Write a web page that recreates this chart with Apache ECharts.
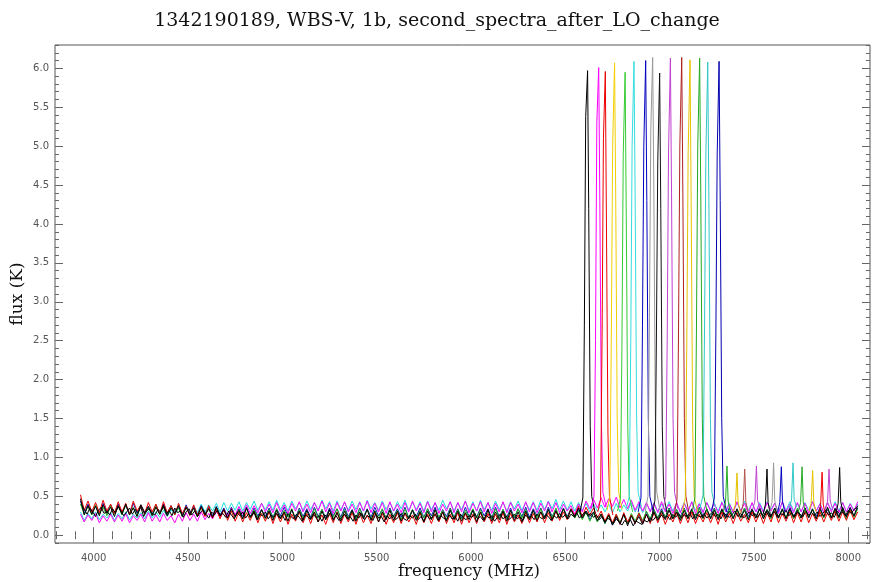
<!DOCTYPE html>
<html>
<head>
<meta charset="utf-8">
<script src="https://cdn.jsdelivr.net/npm/echarts@6/dist/echarts.min.js"></script>
<style>html,body{margin:0;padding:0;background:#fff;}#c{width:874px;height:582px;}</style>
</head>
<body>
<div id="c"></div>
<script>
// ---------- data ----------
const titleText = '1342190189, WBS-V, 1b, second_spectra_after_LO_change';
const xName = 'frequency (MHz)';
const yName = 'flux (K)';
const xRange = [3795, 8115];
const yRange = [-0.1, 6.3];

// baseline spectra sampled on a channel grid (start, step in MHz)
const channelStart = 3930, channelStep = 20;

const blackBase = [
0.47,0.26,0.38,0.27,0.37,0.25,0.39,0.28,0.36,0.24,
0.38,0.27,0.40,0.26,0.35,0.24,0.39,0.28,0.37,0.25,
0.36,0.27,0.39,0.25,0.35,0.28,0.38,0.24,0.36,0.26,
0.35,0.24,0.37,0.26,0.34,0.23,0.36,0.25,0.33,0.22,
0.34,0.24,0.32,0.21,0.35,0.23,0.31,0.20,0.33,0.22,
0.31,0.19,0.32,0.21,0.30,0.18,0.33,0.20,0.31,0.19,
0.32,0.21,0.30,0.17,0.31,0.20,0.33,0.19,0.29,0.18,
0.31,0.20,0.32,0.18,0.30,0.21,0.33,0.19,0.31,0.17,
0.30,0.20,0.32,0.19,0.31,0.18,0.29,0.21,0.32,0.19,
0.30,0.17,0.31,0.20,0.33,0.19,0.30,0.18,0.32,0.20,
0.31,0.18,0.29,0.20,0.32,0.17,0.30,0.19,0.33,0.18,
0.30,0.20,0.31,0.18,0.32,0.19,0.30,0.17,0.31,0.20,
0.32,0.19,0.30,0.21,0.33,0.20,0.31,0.22,0.34,0.21,
0.33,0.23,0.35,0.22,0.31,0.24,0.30,0.19,0.27,0.16,
0.26,0.13,0.24,0.15,0.27,0.12,0.25,0.16,0.24,0.14,
0.27,0.17,0.30,0.19,0.31,0.20,0.32,0.21,0.30,0.19,
0.32,0.21,0.33,0.20,0.31,0.22,0.34,0.21,0.32,0.20,
0.33,0.22,0.31,0.21,0.34,0.23,0.32,0.20,0.33,0.22,
0.34,0.21,0.32,0.23,0.35,0.22,0.33,0.21,0.34,0.23,
0.32,0.22,0.35,0.23,0.33,0.21,0.34,0.24,0.36,0.22,
0.34,0.23,0.36,0.24,0.35,0.25,0.38];

const redBase = [
0.52,0.32,0.44,0.30,0.42,0.29,0.45,0.31,0.40,0.28,
0.43,0.30,0.41,0.27,0.44,0.31,0.39,0.28,0.42,0.30,
0.40,0.27,0.43,0.29,0.38,0.26,0.41,0.28,0.37,0.25,
0.39,0.26,0.36,0.24,0.38,0.22,0.34,0.21,0.33,0.19,
0.31,0.18,0.30,0.17,0.29,0.19,0.31,0.16,0.28,0.18,
0.30,0.15,0.28,0.17,0.29,0.14,0.27,0.18,0.30,0.16,
0.28,0.15,0.29,0.17,0.26,0.14,0.28,0.16,0.30,0.15,
0.27,0.17,0.29,0.14,0.28,0.16,0.26,0.15,0.29,0.17,
0.28,0.14,0.27,0.16,0.29,0.15,0.28,0.17,0.26,0.14,
0.29,0.16,0.27,0.15,0.28,0.17,0.30,0.15,0.27,0.16,
0.29,0.14,0.28,0.16,0.27,0.15,0.29,0.17,0.28,0.15,
0.27,0.16,0.29,0.14,0.28,0.17,0.26,0.15,0.29,0.16,
0.28,0.17,0.30,0.16,0.29,0.18,0.31,0.19,0.30,0.20,
0.34,0.25,0.37,0.24,0.36,0.26,0.35,0.22,0.31,0.18,
0.28,0.16,0.27,0.14,0.29,0.17,0.26,0.15,0.28,0.16,
0.27,0.15,0.29,0.16,0.28,0.14,0.27,0.17,0.29,0.15,
0.28,0.16,0.30,0.15,0.27,0.17,0.29,0.16,0.28,0.14,
0.30,0.17,0.28,0.15,0.29,0.18,0.27,0.16,0.30,0.17,
0.28,0.15,0.29,0.17,0.31,0.16,0.28,0.18,0.30,0.16,
0.29,0.17,0.31,0.16,0.28,0.18,0.30,0.17,0.29,0.19,
0.31,0.18,0.30,0.19,0.32,0.20,0.30];

const magentaBase = [
0.27,0.17,0.26,0.19,0.28,0.16,0.25,0.18,0.27,0.17,
0.26,0.18,0.28,0.16,0.25,0.19,0.27,0.17,0.29,0.18,
0.26,0.17,0.28,0.19,0.25,0.16,0.27,0.18,0.29,0.19,
0.27,0.18,0.30,0.20,0.28,0.21,0.31,0.23,0.33,0.24,
0.35,0.26,0.37,0.27,0.39,0.28,0.38,0.29,0.41,0.30,
0.40,0.29,0.42,0.30,0.39,0.28,0.41,0.31,0.43,0.30,
0.40,0.29,0.42,0.31,0.44,0.30,0.41,0.28,0.42,0.31,
0.43,0.30,0.40,0.29,0.42,0.31,0.44,0.29,0.41,0.30,
0.42,0.28,0.43,0.31,0.40,0.29,0.42,0.30,0.44,0.31,
0.41,0.29,0.43,0.30,0.42,0.28,0.40,0.31,0.43,0.29,
0.42,0.30,0.44,0.29,0.41,0.31,0.43,0.30,0.42,0.28,
0.41,0.30,0.43,0.29,0.42,0.31,0.40,0.29,0.43,0.30,
0.42,0.29,0.41,0.31,0.43,0.30,0.42,0.29,0.40,0.31,
0.38,0.27,0.40,0.30,0.44,0.34,0.46,0.35,0.48,0.36,
0.47,0.37,0.49,0.35,0.46,0.34,0.45,0.32,0.43,0.31,
0.42,0.30,0.41,0.29,0.43,0.30,0.40,0.28,0.42,0.29,
0.41,0.30,0.43,0.28,0.40,0.29,0.42,0.31,0.41,0.28,
0.42,0.30,0.40,0.29,0.43,0.31,0.41,0.28,0.42,0.30,
0.40,0.29,0.42,0.31,0.41,0.28,0.43,0.30,0.40,0.29,
0.42,0.30,0.41,0.28,0.43,0.31,0.40,0.29,0.42,0.30,
0.41,0.29,0.42,0.30,0.40,0.31,0.43];

const cyanBase = [
0.30,0.19,0.28,0.21,0.30,0.20,0.27,0.22,0.29,0.19,
0.28,0.21,0.30,0.20,0.27,0.22,0.29,0.21,0.31,0.22,
0.30,0.23,0.32,0.24,0.33,0.26,0.35,0.27,0.36,0.28,
0.38,0.29,0.40,0.30,0.39,0.31,0.41,0.30,0.42,0.31,
0.41,0.32,0.43,0.31,0.42,0.33,0.44,0.32,0.41,0.33,
0.43,0.32,0.45,0.33,0.42,0.31,0.44,0.34,0.42,0.32,
0.44,0.33,0.42,0.32,0.45,0.34,0.43,0.31,0.44,0.33,
0.42,0.32,0.44,0.33,0.43,0.31,0.45,0.34,0.42,0.32,
0.44,0.33,0.42,0.31,0.43,0.34,0.45,0.32,0.42,0.33,
0.43,0.31,0.44,0.33,0.42,0.32,0.45,0.34,0.43,0.31,
0.42,0.33,0.44,0.32,0.43,0.31,0.45,0.33,0.42,0.32,
0.44,0.33,0.42,0.31,0.43,0.34,0.44,0.32,0.42,0.33,
0.43,0.32,0.45,0.33,0.44,0.34,0.46,0.33,0.44,0.32,
0.43,0.31,0.42,0.32,0.41,0.30,0.40,0.31,0.39,0.30,
0.40,0.29,0.41,0.30,0.39,0.31,0.42,0.30,0.40,0.29,
0.41,0.31,0.42,0.30,0.40,0.32,0.43,0.31,0.41,0.30,
0.42,0.31,0.43,0.32,0.41,0.30,0.42,0.33,0.40,0.31,
0.43,0.32,0.41,0.30,0.42,0.31,0.44,0.32,0.41,0.30,
0.42,0.31,0.43,0.33,0.41,0.30,0.42,0.32,0.43,0.31,
0.41,0.30,0.42,0.32,0.43,0.31,0.41,0.30,0.42,0.32,
0.43,0.31,0.42,0.30,0.41,0.32,0.40];

const blueBase = [
0.44,0.28,0.40,0.29,0.38,0.27,0.41,0.30,0.39,0.28,
0.40,0.29,0.38,0.27,0.41,0.28,0.39,0.30,0.37,0.27,
0.39,0.28,0.40,0.27,0.38,0.29,0.37,0.26,0.39,0.28,
0.37,0.26,0.38,0.27,0.36,0.25,0.37,0.26,0.35,0.24,
0.36,0.25,0.34,0.24,0.36,0.23,0.35,0.25,0.33,0.24,
0.35,0.23,0.34,0.25,0.36,0.24,0.33,0.22,0.35,0.24,
0.34,0.23,0.36,0.24,0.33,0.22,0.35,0.25,0.34,0.23,
0.36,0.24,0.33,0.22,0.35,0.24,0.34,0.23,0.36,0.25,
0.33,0.22,0.35,0.24,0.34,0.23,0.36,0.22,0.33,0.24,
0.35,0.23,0.34,0.25,0.36,0.22,0.33,0.24,0.35,0.23,
0.34,0.22,0.36,0.24,0.33,0.23,0.35,0.25,0.34,0.22,
0.36,0.24,0.33,0.23,0.35,0.22,0.34,0.24,0.36,0.23,
0.34,0.25,0.35,0.23,0.36,0.24,0.33,0.22,0.35,0.24,
0.34,0.23,0.33,0.22,0.31,0.20,0.29,0.18,0.27,0.15,
0.26,0.13,0.24,0.14,0.27,0.16,0.25,0.15,0.28,0.17,
0.30,0.20,0.33,0.22,0.34,0.23,0.35,0.22,0.33,0.24,
0.35,0.23,0.34,0.22,0.36,0.24,0.33,0.23,0.35,0.22,
0.34,0.24,0.36,0.23,0.33,0.22,0.35,0.24,0.34,0.23,
0.36,0.22,0.33,0.24,0.35,0.23,0.34,0.22,0.36,0.24,
0.33,0.23,0.35,0.22,0.34,0.24,0.36,0.23,0.33,0.22,
0.35,0.24,0.34,0.23,0.36,0.24,0.35];

const greenBase = [
0.40,0.27,0.37,0.26,0.39,0.28,0.36,0.25,0.38,0.27,
0.37,0.26,0.39,0.28,0.36,0.25,0.38,0.27,0.35,0.26,
0.38,0.27,0.36,0.25,0.37,0.28,0.35,0.24,0.37,0.26,
0.35,0.24,0.36,0.25,0.34,0.23,0.36,0.24,0.33,0.22,
0.34,0.23,0.33,0.21,0.35,0.22,0.33,0.23,0.32,0.21,
0.33,0.22,0.34,0.21,0.32,0.23,0.34,0.20,0.33,0.22,
0.32,0.21,0.34,0.22,0.33,0.20,0.32,0.23,0.34,0.21,
0.33,0.22,0.32,0.20,0.34,0.23,0.33,0.21,0.32,0.22,
0.34,0.21,0.33,0.23,0.32,0.20,0.34,0.22,0.33,0.21,
0.32,0.22,0.34,0.21,0.33,0.23,0.32,0.20,0.34,0.22,
0.33,0.21,0.32,0.23,0.34,0.22,0.33,0.20,0.32,0.21,
0.34,0.22,0.33,0.21,0.32,0.23,0.34,0.22,0.33,0.20,
0.32,0.22,0.34,0.21,0.33,0.23,0.35,0.22,0.34,0.23,
0.33,0.22,0.31,0.20,0.30,0.18,0.28,0.17,0.27,0.15,
0.25,0.15,0.27,0.17,0.26,0.16,0.28,0.18,0.29,0.19,
0.31,0.21,0.33,0.22,0.32,0.23,0.34,0.22,0.33,0.21,
0.34,0.22,0.33,0.23,0.35,0.21,0.33,0.22,0.34,0.23,
0.33,0.21,0.34,0.23,0.32,0.22,0.35,0.21,0.33,0.22,
0.34,0.23,0.33,0.21,0.35,0.22,0.34,0.23,0.32,0.21,
0.35,0.22,0.33,0.23,0.34,0.21,0.33,0.22,0.35,0.23,
0.33,0.22,0.34,0.21,0.33,0.23,0.34];

// second black spectrum, finer channel grid
const channelStart2 = 3935, channelStep2 = 15;
const black2Base = [
0.40,0.33,0.27,0.35,0.30,0.24,0.32,0.36,0.28,0.31,
0.26,0.34,0.29,0.37,0.31,0.25,0.30,0.35,0.27,0.33,
0.29,0.36,0.24,0.31,0.34,0.28,0.26,0.33,0.30,0.37,
0.27,0.32,0.25,0.35,0.29,0.31,0.23,0.30,0.34,0.26,
0.31,0.24,0.29,0.33,0.27,0.22,0.30,0.26,0.32,0.25,
0.28,0.23,0.31,0.26,0.21,0.29,0.25,0.30,0.22,0.27,
0.24,0.29,0.20,0.27,0.25,0.30,0.21,0.26,0.23,0.28,
0.22,0.26,0.19,0.28,0.24,0.21,0.27,0.23,0.18,0.26,
0.24,0.20,0.27,0.22,0.25,0.18,0.26,0.23,0.29,0.21,
0.25,0.19,0.23,0.27,0.21,0.24,0.18,0.26,0.22,0.28,
0.20,0.25,0.23,0.19,0.27,0.22,0.24,0.17,0.25,0.21,
0.26,0.20,0.23,0.28,0.21,0.19,0.25,0.22,0.27,0.20,
0.24,0.18,0.26,0.21,0.23,0.27,0.19,0.25,0.22,0.20,
0.26,0.21,0.24,0.18,0.27,0.22,0.20,0.25,0.23,0.28,
0.21,0.24,0.19,0.26,0.22,0.25,0.18,0.23,0.27,0.21,
0.25,0.20,0.23,0.27,0.21,0.24,0.19,0.26,0.22,0.25,
0.20,0.27,0.23,0.21,0.26,0.24,0.19,0.25,0.22,0.28,
0.23,0.26,0.21,0.27,0.24,0.29,0.22,0.26,0.30,0.25,
0.28,0.23,0.26,0.20,0.24,0.17,0.22,0.19,0.15,0.21,
0.17,0.13,0.19,0.15,0.20,0.12,0.18,0.16,0.14,0.19,
0.17,0.22,0.19,0.24,0.21,0.26,0.22,0.25,0.20,0.27,
0.23,0.28,0.22,0.26,0.24,0.29,0.21,0.27,0.25,0.23,
0.28,0.22,0.26,0.30,0.24,0.27,0.21,0.29,0.25,0.23,
0.27,0.31,0.24,0.28,0.22,0.26,0.30,0.25,0.28,0.23,
0.29,0.25,0.31,0.24,0.27,0.30,0.23,0.28,0.26,0.32,
0.25,0.29,0.23,0.30,0.27,0.24,0.31,0.26,0.29,0.25,
0.30,0.24,0.28,0.32,0.26,0.29,0.23,0.31,0.27,0.30,
0.25,0.32,0.28,0.33,0.36];

const baseNames  = ['cyan', 'blue', 'green', 'magenta', 'red', 'black'];
const baseColors = ['#22dddd', '#1010c0', '#22bb22', '#ff00ff', '#ee0000', '#000000'];
const baseValues = [cyanBase, blueBase, greenBase, magentaBase, redBase, blackBase];

// strong lines: [frequency MHz, flux K] points per spectrum
const bigPeakColors = ['#000000','#ff00ff','#ee0000','#f2d000','#33cc33','#33dddd','#0000c0','#999999',
                       '#111111','#c040d0','#b02020','#e6c200','#22aa22','#30c8c8','#0000b0'];
const bigPeaks = [
 [[6578,0.30],[6593,0.48],[6601,2.7],[6608,5.38],[6618,5.97],[6624,4.2],[6632,1.4],[6640,0.5],[6658,0.28]],
 [[6637,0.34],[6652,0.5],[6660,2.5],[6667,5.3],[6677,6.01],[6683,4.3],[6691,1.5],[6699,0.55],[6717,0.36]],
 [[6672,0.30],[6687,0.46],[6695,2.6],[6702,5.1],[6712,5.96],[6718,4.0],[6726,1.3],[6734,0.5],[6752,0.26]],
 [[6721,0.32],[6736,0.5],[6744,2.6],[6751,5.0],[6761,6.07],[6767,4.4],[6775,1.5],[6783,0.55],[6801,0.33]],
 [[6777,0.31],[6792,0.47],[6800,2.4],[6807,4.9],[6817,5.95],[6823,4.1],[6831,1.4],[6839,0.5],[6857,0.30]],
 [[6824,0.35],[6839,0.5],[6847,2.5],[6854,5.0],[6864,6.09],[6870,4.4],[6878,1.5],[6886,0.55],[6904,0.36]],
 [[6886,0.30],[6901,0.48],[6909,2.7],[6916,5.0],[6926,6.10],[6932,4.3],[6940,1.5],[6948,0.5],[6966,0.30]],
 [[6923,0.30],[6938,0.5],[6946,2.8],[6953,5.2],[6963,6.14],[6969,4.5],[6977,1.6],[6985,0.55],[7003,0.30]],
 [[6960,0.25],[6975,0.45],[6983,2.6],[6990,4.8],[7000,5.94],[7006,4.2],[7014,1.4],[7022,0.5],[7040,0.27]],
 [[7017,0.33],[7032,0.5],[7040,2.5],[7047,4.9],[7057,6.13],[7063,4.4],[7071,1.5],[7079,0.55],[7097,0.34]],
 [[7077,0.26],[7092,0.46],[7100,2.6],[7107,5.0],[7117,6.14],[7123,4.4],[7131,1.5],[7139,0.5],[7157,0.26]],
 [[7121,0.30],[7136,0.48],[7144,2.5],[7151,4.9],[7161,6.11],[7167,4.3],[7175,1.4],[7183,0.5],[7201,0.30]],
 [[7172,0.30],[7187,0.48],[7195,2.6],[7202,5.0],[7212,6.13],[7218,4.4],[7226,1.5],[7234,0.5],[7252,0.30]],
 [[7215,0.35],[7230,0.52],[7238,2.7],[7245,4.9],[7255,6.08],[7261,4.3],[7269,1.5],[7277,0.55],[7295,0.36]],
 [[7275,0.30],[7290,0.48],[7298,2.6],[7305,4.9],[7315,6.09],[7321,4.3],[7329,1.5],[7337,0.5],[7355,0.30]]
];

// weak lines
const smallPeakColors = ['#22aa22','#e6c200','#b5534f','#c040d0','#000000','#999999','#0000c0',
                         '#30c8c8','#22aa22','#e6c200','#ee0000','#c040d0','#000000'];
const smallPeaks = [
 [[7337,0.30],[7349,0.42],[7357,0.89],[7363,0.44],[7375,0.30]],
 [[7390,0.31],[7402,0.40],[7410,0.80],[7416,0.42],[7428,0.29]],
 [[7431,0.28],[7443,0.41],[7451,0.85],[7457,0.43],[7469,0.30]],
 [[7493,0.33],[7505,0.44],[7513,0.89],[7519,0.45],[7531,0.34]],
 [[7549,0.27],[7561,0.40],[7569,0.85],[7575,0.42],[7587,0.26]],
 [[7584,0.30],[7596,0.43],[7604,0.93],[7610,0.45],[7622,0.31]],
 [[7625,0.29],[7637,0.42],[7645,0.88],[7651,0.44],[7663,0.30]],
 [[7687,0.35],[7699,0.45],[7707,0.93],[7713,0.46],[7725,0.36]],
 [[7735,0.30],[7747,0.42],[7755,0.88],[7761,0.43],[7773,0.29]],
 [[7791,0.31],[7803,0.41],[7811,0.83],[7817,0.42],[7829,0.30]],
 [[7841,0.24],[7853,0.38],[7861,0.81],[7867,0.40],[7879,0.25]],
 [[7878,0.33],[7890,0.43],[7898,0.85],[7904,0.44],[7916,0.34]],
 [[7934,0.28],[7946,0.41],[7954,0.87],[7960,0.43],[7972,0.29]]
];

// tick layout values
const xMajor = [4000, 8000, 500];
const yMajor = [0, 6.0, 0.5];
const xMinor = [3800, 8100, 100];
const yMinor = [-0.1, 6.3, 0.1];

// ---------- layout ----------
const G = {left: 55, right: 4, top: 45, bottom: 39};
const W = 874, H = 582;
const pw = W - G.left - G.right, ph = H - G.top - G.bottom;
const px = f => G.left + (f - xRange[0]) / (xRange[1] - xRange[0]) * pw;
const py = v => (H - G.bottom) - (v - yRange[0]) / (yRange[1] - yRange[0]) * ph;
const plotR = W - G.right, plotB = H - G.bottom;

const tickColor = '#666';
const labelFont = {fontFamily: 'DejaVu Sans', fontSize: 10, color: '#555'};
const serif = 'DejaVu Serif';

function tickAxes(gi, xr, yr, len, labels) {
  const gl = px(xr[0]), gr = px(xr[1]), gt = py(yr[1]), gb = py(yr[0]);
  const grid = {left: gl, right: W - gr, top: gt, bottom: H - gb, containLabel: false, outerBoundsMode: 'none'};
  const common = {type: 'value', gridIndex: gi, axisLine: {show: false}, splitLine: {show: false},
    axisTick: {show: true, inside: true, length: len, lineStyle: {color: tickColor, width: 1}}};
  const xs = [
    Object.assign({}, common, {position: 'bottom', min: xr[0], max: xr[1], interval: xr[2], offset: plotB - gb,
      axisLabel: labels ? Object.assign({show: true, margin: 10, formatter: v => String(v)}, labelFont) : {show: false}}),
    Object.assign({}, common, {position: 'top', min: xr[0], max: xr[1], interval: xr[2], offset: gt - G.top,
      axisLabel: {show: false}})
  ];
  const ys = [
    Object.assign({}, common, {position: 'left', min: yr[0], max: yr[1], interval: yr[2], offset: gl - G.left,
      axisLabel: labels ? Object.assign({show: true, margin: 6, formatter: v => v.toFixed(1)}, labelFont) : {show: false}}),
    Object.assign({}, common, {position: 'right', min: yr[0], max: yr[1], interval: yr[2], offset: plotR - gr,
      axisLabel: {show: false}})
  ];
  return {grid, xs, ys};
}

const major = tickAxes(1, xMajor, yMajor, 8, true);
const minor = tickAxes(2, xMinor, yMinor, 4, false);

const grids = [
  {left: G.left, right: G.right, top: G.top, bottom: G.bottom, show: true, borderColor: '#555', borderWidth: 1,
   backgroundColor: 'transparent', containLabel: false, outerBoundsMode: 'none'},
  major.grid, minor.grid
];

const xAxes = [
  {type: 'value', gridIndex: 0, min: xRange[0], max: xRange[1], axisLine: {show: false}, axisTick: {show: false},
   axisLabel: {show: false}, splitLine: {show: false},
   name: xName, nameLocation: 'middle', nameGap: 20,
   nameTextStyle: {fontFamily: serif, fontSize: 16.5, color: '#111', padding: [0, 0, 0, 13]}},
  ...major.xs, ...minor.xs
];
const yAxes = [
  {type: 'value', gridIndex: 0, min: yRange[0], max: yRange[1], axisLine: {show: false}, axisTick: {show: false},
   axisLabel: {show: false}, splitLine: {show: false},
   name: yName, nameLocation: 'middle', nameGap: 29,
   nameTextStyle: {fontFamily: serif, fontSize: 17, color: '#111'}},
  ...major.ys, ...minor.ys
];

const series = [];
baseValues.forEach((arr, k) => {
  series.push({
    type: 'line', name: baseNames[k], xAxisIndex: 0, yAxisIndex: 0, symbol: 'none', silent: true,
    lineStyle: {color: baseColors[k], width: 1}, clip: true,
    data: arr.map((v, i) => [channelStart + i * channelStep, v])
  });
});
series.push({
  type: 'line', name: 'black2', xAxisIndex: 0, yAxisIndex: 0, symbol: 'none', silent: true,
  lineStyle: {color: '#000000', width: 1}, clip: true,
  data: black2Base.map((v, i) => [channelStart2 + i * channelStep2, v])
});
bigPeaks.forEach((pts, k) => {
  series.push({type: 'line', xAxisIndex: 0, yAxisIndex: 0, symbol: 'none', silent: true,
    lineStyle: {color: bigPeakColors[k], width: 1}, data: pts});
});
smallPeaks.forEach((pts, k) => {
  series.push({type: 'line', xAxisIndex: 0, yAxisIndex: 0, symbol: 'none', silent: true,
    lineStyle: {color: smallPeakColors[k], width: 1}, data: pts});
});

const chart = echarts.init(document.getElementById('c'), null, {renderer: 'canvas', width: W, height: H});
chart.setOption({
  animation: false,
  backgroundColor: '#fff',
  title: {text: titleText, left: 'center', top: 7,
    textStyle: {fontFamily: serif, fontSize: 19, fontWeight: 'normal', color: '#111'}},
  grid: grids,
  xAxis: xAxes,
  yAxis: yAxes,
  series: series
});
</script>
</body>
</html>
